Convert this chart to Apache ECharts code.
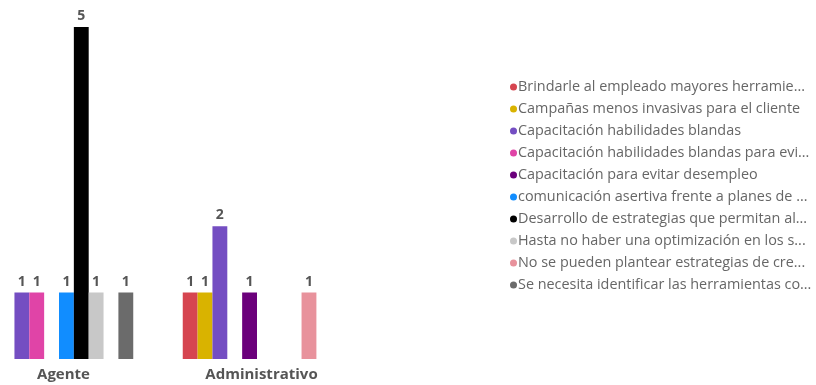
<!DOCTYPE html>
<html>
<head>
<meta charset="utf-8">
<script src="https://cdn.jsdelivr.net/npm/echarts@6/dist/echarts.min.js"></script>
<style>
  html, body { margin: 0; padding: 0; background: #ffffff; overflow: hidden; }
  #wrap { position: relative; width: 816px; height: 385px; overflow: hidden; }
  /* the plot starts a little past the left edge, so the canvas is shifted */
  #chart { position: absolute; left: -40px; top: 0; width: 856px; height: 385px; }
</style>
</head>
<body>
<div id="wrap"><div id="chart"></div></div>
<script>
// Categories on the x axis
const categories = ['Agente', 'Administrativo'];

// Series names as shown in the legend
const seriesNames = [
  'Brindarle al empleado mayores herramie...',
  'Campañas menos invasivas para el cliente',
  'Capacitación habilidades blandas',
  'Capacitación habilidades blandas para evi...',
  'Capacitación para evitar desempleo',
  'comunicación asertiva frente a planes de ...',
  'Desarrollo de estrategias que permitan al...',
  'Hasta no haber una optimización en los s...',
  'No se pueden plantear estrategias de cre...',
  'Se necesita identificar las herramientas co...'
];

// Counts per series: [Agente, Administrativo]; null = no responses
const brindarle     = [null, 1];
const campanas      = [null, 1];
const capHabBlandas = [1, 2];
const capHabEvi     = [1, null];
const capDesempleo  = [null, 1];
const comunicacion  = [1, null];
const desarrollo    = [5, null];
const hastaNo       = [1, null];
const noSePueden    = [null, 1];
const seNecesita    = [1, null];

const seriesValues = [
  brindarle, campanas, capHabBlandas, capHabEvi, capDesempleo,
  comunicacion, desarrollo, hastaNo, noSePueden, seNecesita
];

const colors = [
  '#D64550', '#D9B300', '#744EC2', '#E044A7', '#6B007B',
  '#118DFF', '#000000', '#C8C8C8', '#E8929C', '#6B6B6B'
];

const FONT = '"Open Sans", "Noto Sans", sans-serif';

const chart = echarts.init(document.getElementById('chart'), null, { renderer: 'canvas' });

const series = seriesNames.map((name, i) => ({
  name: name,
  type: 'bar',
  data: seriesValues[i],
  barGap: '0%',
  barCategoryGap: '25%',
  itemStyle: { color: colors[i] },
  label: {
    show: true,
    position: 'top',
    distance: 4,
    color: '#555555',
    fontFamily: FONT,
    fontWeight: 'bold',
    fontSize: 14
  }
}));

chart.setOption({
  animation: false,
  color: colors,
  grid: { left: 0, width: 396, top: 27, bottom: 26 },
  legend: {
    orient: 'vertical',
    left: 545,
    top: 74,
    icon: 'circle',
    itemWidth: 7,
    itemHeight: 7,
    itemGap: 6,
    data: seriesNames,
    textStyle: {
      color: '#666666',
      fontFamily: FONT,
      fontSize: 14.4,
      lineHeight: 16,
      padding: [0, 0, 0, -4]
    }
  },
  xAxis: {
    type: 'category',
    data: categories,
    axisLine: { show: false },
    axisTick: { show: false },
    axisLabel: {
      margin: 8,
      color: '#555555',
      fontFamily: FONT,
      fontWeight: 'bold',
      fontSize: 15,
      padding: [0, 0, 0, 9]
    }
  },
  yAxis: {
    type: 'value',
    min: 0,
    max: 5,
    show: false,
    splitLine: { show: false }
  },
  series: series
});
</script>
</body>
</html>
